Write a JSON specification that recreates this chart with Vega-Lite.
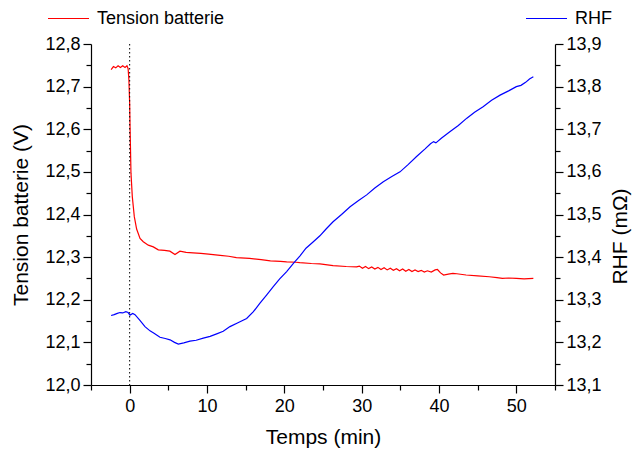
{
  "$schema": "https://vega.github.io/schema/vega-lite/v6.json",
  "width": 464,
  "height": 341,
  "autosize": {"type": "none"},
  "padding": {"left": 91, "top": 44, "right": 77, "bottom": 68},
  "background": "white",
  "config": {
    "view": {"stroke": null},
    "font": "Liberation Sans",
    "axis": {"domainColor": "black", "tickColor": "black", "labelColor": "black", "titleColor": "black", "labelFont": "Liberation Sans", "titleFont": "Liberation Sans", "labelFontSize": 18, "titleFontSize": 21, "titleFontWeight": "normal", "grid": false, "domainWidth": 1.2, "tickWidth": 1.2},
    "legend": {"labelFont": "Liberation Sans", "labelFontSize": 18, "labelColor": "black", "symbolType": "stroke", "symbolSize": 1681, "symbolStrokeWidth": 1.2, "padding": 0, "labelOffset": 7}
  },
  "datasets": {
    "volt": [
      {"t": -2.4, "v": 12.740}, {"t": -2.1, "v": 12.747}, {"t": -1.8, "v": 12.744}, {"t": -1.5, "v": 12.749}, {"t": -1.2, "v": 12.745}, {"t": -0.9, "v": 12.749}, {"t": -0.6, "v": 12.745}, {"t": -0.35, "v": 12.749}, {"t": -0.2, "v": 12.742}, {"t": -0.1, "v": 12.716}, {"t": 0.0, "v": 12.66}, {"t": 0.05, "v": 12.606}, {"t": 0.17, "v": 12.497}, {"t": 0.34, "v": 12.442}, {"t": 0.6, "v": 12.395}, {"t": 0.9, "v": 12.366}, {"t": 1.34, "v": 12.344}, {"t": 1.76, "v": 12.336}, {"t": 2.41, "v": 12.328}, {"t": 3.06, "v": 12.324}, {"t": 3.7, "v": 12.317}, {"t": 4.5, "v": 12.316}, {"t": 5.2, "v": 12.314}, {"t": 5.86, "v": 12.306}, {"t": 6.5, "v": 12.314}, {"t": 7.3, "v": 12.311}, {"t": 8.2, "v": 12.310}, {"t": 9.2, "v": 12.309}, {"t": 10.2, "v": 12.307}, {"t": 11.7, "v": 12.304}, {"t": 12.8, "v": 12.302}, {"t": 13.8, "v": 12.299}, {"t": 15.5, "v": 12.297}, {"t": 17.0, "v": 12.294}, {"t": 18.2, "v": 12.291}, {"t": 19.5, "v": 12.290}, {"t": 20.3, "v": 12.289}, {"t": 21.5, "v": 12.288}, {"t": 22.0, "v": 12.287}, {"t": 23.5, "v": 12.285}, {"t": 24.6, "v": 12.284}, {"t": 26.3, "v": 12.280}, {"t": 28.0, "v": 12.278}, {"t": 29.35, "v": 12.277}, {"t": 29.7, "v": 12.279}, {"t": 30.1, "v": 12.274}, {"t": 30.5, "v": 12.278}, {"t": 30.9, "v": 12.273}, {"t": 31.3, "v": 12.277}, {"t": 31.7, "v": 12.272}, {"t": 32.1, "v": 12.276}, {"t": 32.5, "v": 12.271}, {"t": 32.9, "v": 12.275}, {"t": 33.3, "v": 12.270}, {"t": 33.7, "v": 12.274}, {"t": 34.1, "v": 12.269}, {"t": 34.5, "v": 12.273}, {"t": 34.9, "v": 12.268}, {"t": 35.3, "v": 12.272}, {"t": 35.7, "v": 12.267}, {"t": 36.1, "v": 12.271}, {"t": 36.5, "v": 12.266}, {"t": 36.9, "v": 12.270}, {"t": 37.3, "v": 12.266}, {"t": 37.7, "v": 12.269}, {"t": 38.1, "v": 12.265}, {"t": 38.5, "v": 12.268}, {"t": 39.0, "v": 12.265}, {"t": 39.5, "v": 12.270}, {"t": 39.8, "v": 12.271}, {"t": 40.2, "v": 12.263}, {"t": 40.6, "v": 12.258}, {"t": 41.2, "v": 12.260}, {"t": 41.8, "v": 12.262}, {"t": 42.3, "v": 12.261}, {"t": 43.5, "v": 12.258}, {"t": 45.0, "v": 12.256}, {"t": 46.5, "v": 12.254}, {"t": 47.5, "v": 12.252}, {"t": 48.2, "v": 12.250}, {"t": 49.0, "v": 12.251}, {"t": 50.0, "v": 12.250}, {"t": 51.0, "v": 12.249}, {"t": 52.2, "v": 12.250}
    ],
    "rhf": [
      {"t": -2.4, "r": 13.263}, {"t": -2.0, "r": 13.265}, {"t": -1.6, "r": 13.268}, {"t": -1.25, "r": 13.270}, {"t": -0.9, "r": 13.269}, {"t": -0.5, "r": 13.272}, {"t": -0.2, "r": 13.270}, {"t": 0.04, "r": 13.264}, {"t": 0.4, "r": 13.268}, {"t": 0.69, "r": 13.265}, {"t": 1.3, "r": 13.252}, {"t": 1.98, "r": 13.237}, {"t": 2.63, "r": 13.227}, {"t": 3.2, "r": 13.221}, {"t": 3.92, "r": 13.212}, {"t": 4.6, "r": 13.209}, {"t": 5.22, "r": 13.206}, {"t": 5.8, "r": 13.200}, {"t": 6.29, "r": 13.196}, {"t": 7.0, "r": 13.199}, {"t": 7.8, "r": 13.203}, {"t": 8.6, "r": 13.205}, {"t": 9.52, "r": 13.210}, {"t": 10.4, "r": 13.214}, {"t": 11.25, "r": 13.220}, {"t": 12.1, "r": 13.226}, {"t": 12.97, "r": 13.237}, {"t": 14.0, "r": 13.246}, {"t": 15.13, "r": 13.256}, {"t": 16.0, "r": 13.272}, {"t": 16.85, "r": 13.292}, {"t": 17.7, "r": 13.311}, {"t": 18.57, "r": 13.331}, {"t": 19.4, "r": 13.349}, {"t": 20.3, "r": 13.366}, {"t": 21.2, "r": 13.386}, {"t": 22.03, "r": 13.403}, {"t": 22.8, "r": 13.421}, {"t": 23.75, "r": 13.436}, {"t": 24.6, "r": 13.450}, {"t": 25.4, "r": 13.466}, {"t": 26.3, "r": 13.483}, {"t": 27.4, "r": 13.500}, {"t": 28.5, "r": 13.518}, {"t": 29.6, "r": 13.533}, {"t": 30.65, "r": 13.546}, {"t": 31.7, "r": 13.562}, {"t": 32.8, "r": 13.577}, {"t": 33.9, "r": 13.589}, {"t": 34.96, "r": 13.600}, {"t": 36.0, "r": 13.617}, {"t": 37.1, "r": 13.636}, {"t": 38.2, "r": 13.654}, {"t": 38.9, "r": 13.666}, {"t": 39.3, "r": 13.671}, {"t": 39.6, "r": 13.668}, {"t": 40.3, "r": 13.679}, {"t": 41.4, "r": 13.694}, {"t": 42.5, "r": 13.709}, {"t": 43.6, "r": 13.726}, {"t": 44.6, "r": 13.740}, {"t": 45.7, "r": 13.753}, {"t": 46.8, "r": 13.768}, {"t": 47.9, "r": 13.780}, {"t": 49.0, "r": 13.790}, {"t": 50.0, "r": 13.800}, {"t": 50.6, "r": 13.803}, {"t": 51.2, "r": 13.810}, {"t": 51.7, "r": 13.818}, {"t": 52.2, "r": 13.823}
    ],
    "zero": [{"t": 0}]
  },
  "encoding": {
    "x": {
      "field": "t", "type": "quantitative",
      "scale": {"domain": [-5, 55], "nice": false, "zero": false},
      "axis": {
        "title": "Temps (min)",
        "values": [-5, 0, 5, 10, 15, 20, 25, 30, 35, 40, 45, 50, 55],
        "labelExpr": "datum.value % 10 === 0 ? format(datum.value, 'd') : ''",
        "tickSize": {"condition": {"test": "datum.value % 10 === 0", "value": 8}, "value": 5},
        "labelPadding": 4,
        "titlePadding": 11
      }
    }
  },
  "layer": [
    {
      "data": {"name": "volt"},
      "mark": {"type": "line", "strokeWidth": 1.2, "interpolate": "linear"},
      "encoding": {
        "y": {
          "field": "v", "type": "quantitative",
          "scale": {"domain": [12.0, 12.8], "nice": false, "zero": false},
          "axis": {
            "orient": "left",
            "title": "Tension batterie (V)",
            "values": [12.0, 12.05, 12.1, 12.15, 12.2, 12.25, 12.3, 12.35, 12.4, 12.45, 12.5, 12.55, 12.6, 12.65, 12.7, 12.75, 12.8],
            "labelExpr": "abs(datum.value * 10 - round(datum.value * 10)) < 0.01 ? replace(format(datum.value, '.1f'), '.', ',') : ''",
            "tickSize": {"condition": {"test": "abs(datum.value * 10 - round(datum.value * 10)) < 0.01", "value": 8}, "value": 5},
            "labelPadding": 3,
            "titlePadding": 13
          }
        },
        "color": {
          "datum": "Tension batterie",
          "scale": {"range": ["#ff0000"]},
          "legend": {"orient": "none", "legendX": -44, "legendY": -47, "title": null, "symbolStrokeColor": "#ff0000"}
        }
      }
    },
    {
      "data": {"name": "rhf"},
      "mark": {"type": "line", "strokeWidth": 1.2, "interpolate": "linear"},
      "encoding": {
        "y": {
          "field": "r", "type": "quantitative",
          "scale": {"domain": [13.1, 13.9], "nice": false, "zero": false},
          "axis": {
            "orient": "right",
            "title": "RHF (mΩ)",
            "titleAngle": 270,
            "titleBaseline": "top",
            "titleY": 192,
            "values": [13.1, 13.15, 13.2, 13.25, 13.3, 13.35, 13.4, 13.45, 13.5, 13.55, 13.6, 13.65, 13.7, 13.75, 13.8, 13.85, 13.9],
            "labelExpr": "abs(datum.value * 10 - round(datum.value * 10)) < 0.01 ? replace(format(datum.value, '.1f'), '.', ',') : ''",
            "tickSize": {"condition": {"test": "abs(datum.value * 10 - round(datum.value * 10)) < 0.01", "value": 8}, "value": 5},
            "labelPadding": 3,
            "titlePadding": 8
          }
        },
        "color": {
          "datum": "RHF",
          "scale": {"range": ["#0000ff"]},
          "legend": {"orient": "none", "legendX": 434, "legendY": -47, "title": null, "symbolStrokeColor": "#0000ff"}
        }
      }
    },
    {
      "data": {"name": "zero"},
      "mark": {"type": "rule", "color": "black", "strokeWidth": 1, "strokeDash": [1.5, 2.5]},
      "encoding": {}
    }
  ],
  "resolve": {"scale": {"y": "independent", "color": "independent"}}
}
